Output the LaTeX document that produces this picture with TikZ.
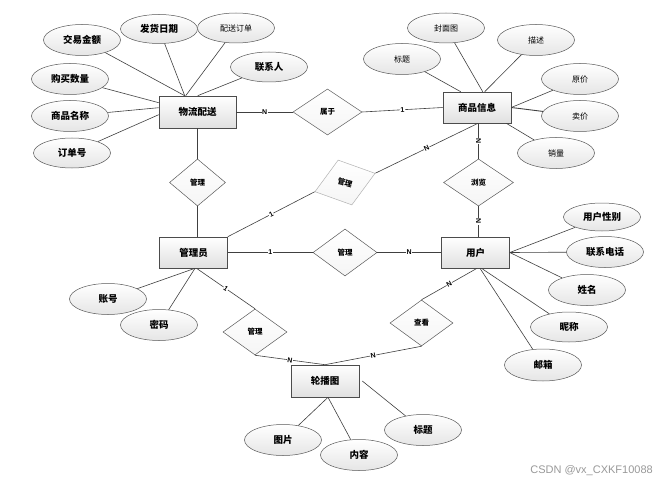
\documentclass[tikz,border=0pt]{standalone}
\usepackage{fontspec}
\setmainfont{Liberation Sans}
\newfontfamily\cjk{Noto Sans CJK SC}
\usetikzlibrary{shapes.geometric}
\begin{document}
\begin{tikzpicture}[x=1pt,y=-1pt,
  ent/.style={rectangle, draw=black!70, line width=0.6pt, minimum width=68pt, minimum height=31pt, inner sep=0pt, top color=white, bottom color=black!12, font=\cjk\bfseries\fontsize{9.5}{11}\selectfont},
  attrb/.style={ellipse, draw=black!65, line width=0.5pt, minimum width=77pt, minimum height=30pt, inner sep=0pt, top color=white, bottom color=black!10, font=\cjk\bfseries\fontsize{9.5}{11}\selectfont},
  attrl/.style={attrb, font=\cjk\fontsize{8}{10}\selectfont},
  rel/.style={diamond, draw=black!65, line width=0.5pt, inner sep=0pt, top color=white, bottom color=black!4, font=\cjk\bfseries\fontsize{7.5}{9}\selectfont},
  ln/.style={draw=black!75, line width=0.6pt},
  card/.style={font=\bfseries\fontsize{7}{8}\selectfont, inner sep=0.5pt, fill=white, sloped}
]
\useasboundingbox[fill=white] (0,0) rectangle (664,484);

% entities
\node[ent, minimum width=77pt, minimum height=32pt] (wl) at (197.5,112) {物流配送};
\node[ent] (sp) at (477,107.5) {商品信息};
\node[ent] (gly) at (193.5,252.5) {管理员};
\node[ent] (yh) at (475.5,252.5) {用户};
\node[ent, minimum height=32pt] (lbt) at (325,381) {轮播图};

% relations
\node[rel, minimum width=69pt, minimum height=46pt] (r1) at (327.5,112) {属于};
\node[rel, minimum width=56pt, minimum height=47pt] (r2) at (197.5,182.5) {管理};
\node[rel, draw=black!30, minimum width=63pt, minimum height=47pt, rotate=17] (r3) at (345,182.5) {\rotatebox{-33}{管理}};
\node[rel, minimum width=70pt, minimum height=47pt] (r4) at (478.5,182.5) {浏览};
\node[rel, minimum width=64pt, minimum height=47pt] (r5) at (345,252.5) {管理};
\node[rel, minimum width=64pt, minimum height=46pt] (r6) at (255,332) {管理};
\node[rel, minimum width=63pt, minimum height=46pt] (r7) at (421.5,323) {查看};

% attributes of 物流配送
\node[attrb, minimum height=31pt] (a) at (82,40) {交易金额};
\node[attrb, minimum height=29pt] (b) at (159,29) {发货日期};
\node[attrl] (c) at (236,28) {配送订单};
\node[attrb] (d) at (269,67) {联系人};
\node[attrb, minimum height=31pt] (e) at (70,79) {购买数量};
\node[attrb, minimum height=31pt] (f) at (70,116) {商品名称};
\node[attrb] (g) at (72,153) {订单号};
% attributes of 商品信息
\node[attrl, minimum height=31pt] (h) at (402,59) {标题};
\node[attrl] (i) at (446,28) {封面图};
\node[attrl, minimum height=31pt] (j) at (536,40) {描述};
\node[attrl, minimum height=31pt] (k) at (580,79) {原价};
\node[attrl, minimum height=31pt] (l) at (580,116) {卖价};
\node[attrl, minimum height=31pt] (m) at (556,153) {销量};
% attributes of 用户
\node[attrb, minimum height=28pt] (n) at (602,217) {用户性别};
\node[attrb, minimum height=31pt] (o) at (605,252) {联系电话};
\node[attrb, minimum height=31pt] (p) at (587,290) {姓名};
\node[attrb] (q) at (569,327) {昵称};
\node[attrb, minimum height=32pt] (r) at (543,365) {邮箱};
% attributes of 管理员
\node[attrb, minimum height=31pt] (s) at (108,299) {账号};
\node[attrb, minimum height=31pt] (t) at (159,325) {密码};
% attributes of 轮播图
\node[attrb, minimum height=31pt] (u) at (283,440) {图片};
\node[attrb, minimum height=31pt] (v) at (359,455) {内容};
\node[attrb, minimum height=31pt] (w) at (423,430) {标题};

% attribute connectors
\draw[ln] (a) -- ([xshift=26pt]wl.north west);
\draw[ln] (b) -- ([xshift=26pt]wl.north west);
\draw[ln] (c) -- ([xshift=27pt]wl.north west);
\draw[ln] (d) -- ([xshift=39pt]wl.north west);
\draw[ln] (e) -- ([yshift=-7pt]wl.north west);
\draw[ln] (f) -- ([yshift=-12pt]wl.north west);
\draw[ln] (g) -- ([yshift=-19pt]wl.north west);

\draw[ln] (h) -- ([xshift=18pt]sp.north west);
\draw[ln] (i) -- ([xshift=40pt]sp.north west);
\draw[ln] (j) -- ([xshift=42pt]sp.north west);
\draw[ln] (k) -- (sp.east);
\draw[ln, line width=0.9pt] (l) -- (sp.east);
\draw[ln] (m) -- ([xshift=-5pt]sp.south east);

\draw[ln] (n) -- (yh.east);
\draw[ln] (o) -- (yh.east);
\draw[ln] (p) -- (yh.east);
\draw[ln] (q) -- ([xshift=6pt]yh.south);
\draw[ln] (r) -- ([xshift=4.5pt]yh.south);

\draw[ln] (s) -- ([xshift=1.5pt]gly.south);
\draw[ln] (t) -- ([xshift=1.5pt]gly.south);

\draw[ln] (u) -- ([xshift=3pt]lbt.south);
\draw[ln] (v) -- ([xshift=3pt]lbt.south);
\draw[ln] (w) -- ([xshift=3pt]lbt.east);

% relationship connectors
\draw[ln] (wl.east) -- node[card]{N} (r1.west);
\draw[ln] (r1.east) -- node[card]{1} (sp.west);
\draw[ln] (wl.south) -- (r2.north);
\draw[ln] (r2.south) -- ([xshift=4pt]gly.north);
\draw[ln] (gly.north east) -- node[card]{1} (r3.west);
\draw[ln] (r3.east) -- node[card]{N} ([xshift=1pt]sp.south);
\draw[ln] (gly.east) -- node[card]{1} (r5.west);
\draw[ln] (r5.east) -- node[card]{N} (yh.west);
\draw[ln] ([xshift=1.5pt]sp.south) -- node[card]{N} (r4.north);
\draw[ln] (r4.south) -- node[card]{N} ([xshift=3pt]yh.north);
\draw[ln] ([xshift=3pt]gly.south) -- node[card]{1} (r6.north);
\draw[ln] (r6.south) -- node[card]{N} (lbt.north);
\draw[ln] (r7.south) -- node[card]{N} (lbt.north);
\draw[ln] ([xshift=1.5pt]yh.south) -- node[card]{N} (r7.north);

% watermark
\node[anchor=east, text=black!40, font=\fontsize{11}{12}\selectfont, inner sep=0pt] (wm) at (653,471) {CSDN @vx\_CXKF10088};
\end{tikzpicture}
\end{document}
